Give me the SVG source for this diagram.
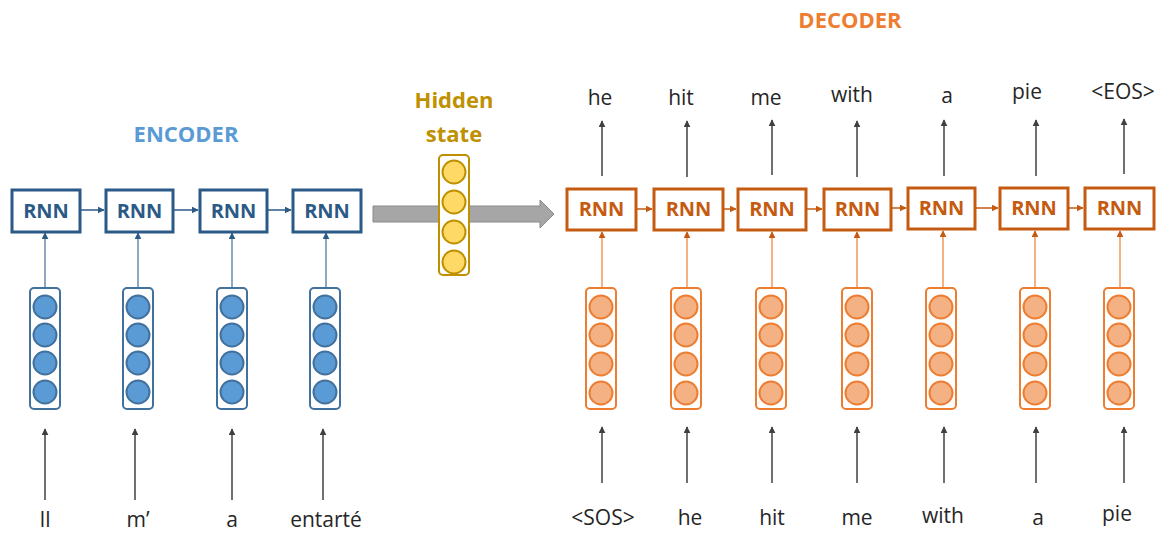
<svg xmlns="http://www.w3.org/2000/svg" width="1160" height="534" viewBox="0 0 1160 534">
  <defs>
    <style>
      .title { font-family: "Open Sans", "Liberation Sans", sans-serif; font-weight: bold; font-size: 22px; text-anchor: middle; }
      .word { font-family: "Open Sans", "Liberation Sans", sans-serif; font-size: 21px; fill: #262626; text-anchor: middle; }
      .rnn-label { font-family: "Open Sans", "Liberation Sans", sans-serif; font-weight: bold; font-size: 20px; text-anchor: middle; }
      .enc-box { fill: #ffffff; stroke: #2B5A87; stroke-width: 3; }
      .enc-label { fill: #2B5A87; }
      .dec-box { fill: #ffffff; stroke: #C55A11; stroke-width: 3; }
      .dec-label { fill: #C55A11; }
      .enc-vec { fill: #ffffff; stroke: #41719C; stroke-width: 2; }
      .enc-unit { fill: #5B9BD5; stroke: #41719C; stroke-width: 2; }
      .dec-vec { fill: #ffffff; stroke: #ED7D31; stroke-width: 2; }
      .dec-unit { fill: #F4B183; stroke: #ED7D31; stroke-width: 2; }
      .hid-vec { fill: #ffffff; stroke: #BF9000; stroke-width: 2; }
      .hid-unit { fill: #FFD966; stroke: #BF9000; stroke-width: 2; }
      .io { stroke: #404040; stroke-width: 1.5; fill: none; marker-end: url(#tip-dark); }
      .enc-link { stroke: #2B5A87; stroke-width: 1.5; fill: none; marker-end: url(#tip-blue); }
      .enc-feed { stroke: #41719C; stroke-width: 1.2; fill: none; marker-end: url(#tip-blue); }
      .dec-link { stroke: #C55A11; stroke-width: 1.5; fill: none; marker-end: url(#tip-orange); }
      .dec-feed { stroke: #ED7D31; stroke-width: 1.2; fill: none; marker-end: url(#tip-orange); }
    </style>
    <marker id="tip-dark" viewBox="0 0 10 10" refX="9" refY="5" markerWidth="7" markerHeight="7" markerUnits="userSpaceOnUse" orient="auto">
      <path d="M0,0 L10,5 L0,10 z" fill="#404040"/>
    </marker>
    <marker id="tip-blue" viewBox="0 0 10 10" refX="9" refY="5" markerWidth="7" markerHeight="7" markerUnits="userSpaceOnUse" orient="auto">
      <path d="M0,0 L10,5 L0,10 z" fill="#2B5A87"/>
    </marker>
    <marker id="tip-orange" viewBox="0 0 10 10" refX="9" refY="5" markerWidth="7" markerHeight="7" markerUnits="userSpaceOnUse" orient="auto">
      <path d="M0,0 L10,5 L0,10 z" fill="#C55A11"/>
    </marker>
    <!-- a column of four units -->
    <g id="enc-column">
      <rect class="enc-vec" x="-15" y="0" width="30" height="121" rx="4"/>
      <circle class="enc-unit" cx="0" cy="19" r="11.5"/>
      <circle class="enc-unit" cx="0" cy="47" r="11.5"/>
      <circle class="enc-unit" cx="0" cy="75" r="11.5"/>
      <circle class="enc-unit" cx="0" cy="104" r="11.5"/>
    </g>
    <g id="dec-column">
      <rect class="dec-vec" x="-15" y="0" width="30" height="121" rx="4"/>
      <circle class="dec-unit" cx="0" cy="19" r="11.5"/>
      <circle class="dec-unit" cx="0" cy="47" r="11.5"/>
      <circle class="dec-unit" cx="0" cy="76" r="11.5"/>
      <circle class="dec-unit" cx="0" cy="105" r="11.5"/>
    </g>
  </defs>

  <rect width="1160" height="534" fill="#ffffff"/>

  <!-- section titles -->
  <text class="title" x="186" y="142" fill="#5B9BD5">ENCODER</text>
  <text class="title" x="850" y="28" fill="#ED7D31">DECODER</text>

  <!-- connectors -->
  <g id="connectors">
    <!-- encoder: word to embedding -->
    <line class="io" x1="45" y1="500" x2="45" y2="429"/>
    <line class="io" x1="135" y1="500" x2="135" y2="429"/>
    <line class="io" x1="232" y1="500" x2="232" y2="429"/>
    <line class="io" x1="323" y1="500" x2="323" y2="429"/>
    <!-- encoder: embedding to cell -->
    <line class="enc-feed" x1="45" y1="288" x2="45" y2="233"/>
    <line class="enc-feed" x1="138" y1="288" x2="138" y2="233"/>
    <line class="enc-feed" x1="232" y1="288" x2="232" y2="233"/>
    <line class="enc-feed" x1="326" y1="288" x2="326" y2="233"/>
    <!-- encoder: recurrence -->
    <line class="enc-link" x1="81" y1="210" x2="104" y2="210"/>
    <line class="enc-link" x1="174" y1="210" x2="198" y2="210"/>
    <line class="enc-link" x1="268" y1="210" x2="291" y2="210"/>

    <!-- context hand-off -->
    <polygon points="373,206 540,206 540,200 554,214 540,228 540,222 373,222" fill="#A6A6A6" stroke="#8A8A8A" stroke-width="1"/>

    <!-- decoder: recurrence -->
    <line class="dec-link" x1="637" y1="209" x2="652" y2="209"/>
    <line class="dec-link" x1="724" y1="209" x2="736" y2="209"/>
    <line class="dec-link" x1="807" y1="209" x2="822" y2="209"/>
    <line class="dec-link" x1="892" y1="208" x2="906" y2="208"/>
    <line class="dec-link" x1="976" y1="208" x2="998" y2="208"/>
    <line class="dec-link" x1="1069" y1="208" x2="1083" y2="208"/>
    <!-- decoder: embedding to cell -->
    <line class="dec-feed" x1="602" y1="288" x2="602" y2="232"/>
    <line class="dec-feed" x1="687" y1="288" x2="687" y2="232"/>
    <line class="dec-feed" x1="772" y1="288" x2="772" y2="232"/>
    <line class="dec-feed" x1="857" y1="288" x2="857" y2="232"/>
    <line class="dec-feed" x1="943" y1="288" x2="943" y2="231"/>
    <line class="dec-feed" x1="1035" y1="288" x2="1035" y2="231"/>
    <line class="dec-feed" x1="1120" y1="288" x2="1120" y2="231"/>
    <!-- decoder: word to embedding -->
    <line class="io" x1="602" y1="483" x2="602" y2="427"/>
    <line class="io" x1="687" y1="483" x2="687" y2="427"/>
    <line class="io" x1="772" y1="483" x2="772" y2="427"/>
    <line class="io" x1="857" y1="483" x2="857" y2="427"/>
    <line class="io" x1="944" y1="483" x2="944" y2="427"/>
    <line class="io" x1="1036" y1="483" x2="1036" y2="427"/>
    <line class="io" x1="1124" y1="483" x2="1124" y2="427"/>
    <!-- decoder: cell to output word -->
    <line class="io" x1="602" y1="176" x2="602" y2="121"/>
    <line class="io" x1="687" y1="177" x2="687" y2="121"/>
    <line class="io" x1="772" y1="175" x2="772" y2="120"/>
    <line class="io" x1="857" y1="177" x2="857" y2="121"/>
    <line class="io" x1="944" y1="176" x2="944" y2="120"/>
    <line class="io" x1="1036" y1="176" x2="1036" y2="120"/>
    <line class="io" x1="1124" y1="174" x2="1124" y2="119"/>
  </g>

  <!-- encoder cells -->
  <g id="enc-rnn-1"><rect class="enc-box" x="12" y="190" width="68" height="42"/><text class="rnn-label enc-label" x="46" y="218">RNN</text></g>
  <g id="enc-rnn-2"><rect class="enc-box" x="106" y="190" width="67" height="42"/><text class="rnn-label enc-label" x="139.5" y="218">RNN</text></g>
  <g id="enc-rnn-3"><rect class="enc-box" x="200" y="190" width="67" height="42"/><text class="rnn-label enc-label" x="233.5" y="218">RNN</text></g>
  <g id="enc-rnn-4"><rect class="enc-box" x="293" y="190" width="68" height="42"/><text class="rnn-label enc-label" x="327" y="218">RNN</text></g>

  <!-- encoder embeddings -->
  <g id="enc-emb-1"><use href="#enc-column" x="45" y="288"/></g>
  <g id="enc-emb-2"><use href="#enc-column" x="138" y="288"/></g>
  <g id="enc-emb-3"><use href="#enc-column" x="232" y="288"/></g>
  <g id="enc-emb-4"><use href="#enc-column" x="325" y="288"/></g>

  <!-- source words -->
  <g id="enc-words">
    <text class="word" x="45" y="527">Il</text>
    <text class="word" x="138" y="527">m’</text>
    <text class="word" x="232" y="527">a</text>
    <text class="word" x="326" y="527">entarté</text>
  </g>

  <!-- hidden state -->
  <g id="hidden-state">
    <text class="title" x="454" y="108" fill="#BF9000">Hidden</text>
    <text class="title" x="454" y="142" fill="#BF9000">state</text>
    <rect class="hid-vec" x="439" y="155" width="30" height="120" rx="4"/>
    <circle class="hid-unit" cx="454" cy="172" r="11.5"/>
    <circle class="hid-unit" cx="454" cy="202" r="11.5"/>
    <circle class="hid-unit" cx="454" cy="232" r="11.5"/>
    <circle class="hid-unit" cx="454" cy="262" r="11.5"/>
  </g>

  <!-- decoder cells -->
  <g id="dec-rnn-1"><rect class="dec-box" x="567" y="189" width="69" height="41"/><text class="rnn-label dec-label" x="601.5" y="216">RNN</text></g>
  <g id="dec-rnn-2"><rect class="dec-box" x="654" y="189" width="69" height="41"/><text class="rnn-label dec-label" x="688.5" y="216">RNN</text></g>
  <g id="dec-rnn-3"><rect class="dec-box" x="738" y="189" width="68" height="41"/><text class="rnn-label dec-label" x="772" y="216">RNN</text></g>
  <g id="dec-rnn-4"><rect class="dec-box" x="824" y="189" width="67" height="41"/><text class="rnn-label dec-label" x="857.5" y="216">RNN</text></g>
  <g id="dec-rnn-5"><rect class="dec-box" x="908" y="188" width="67" height="41"/><text class="rnn-label dec-label" x="941.5" y="215">RNN</text></g>
  <g id="dec-rnn-6"><rect class="dec-box" x="1000" y="188" width="68" height="41"/><text class="rnn-label dec-label" x="1034" y="215">RNN</text></g>
  <g id="dec-rnn-7"><rect class="dec-box" x="1085" y="188" width="69" height="41"/><text class="rnn-label dec-label" x="1119.5" y="215">RNN</text></g>

  <!-- decoder embeddings -->
  <g id="dec-emb-1"><use href="#dec-column" x="601" y="288"/></g>
  <g id="dec-emb-2"><use href="#dec-column" x="686" y="288"/></g>
  <g id="dec-emb-3"><use href="#dec-column" x="771" y="288"/></g>
  <g id="dec-emb-4"><use href="#dec-column" x="857" y="288"/></g>
  <g id="dec-emb-5"><use href="#dec-column" x="941" y="288"/></g>
  <g id="dec-emb-6"><use href="#dec-column" x="1035" y="288"/></g>
  <g id="dec-emb-7"><use href="#dec-column" x="1119" y="288"/></g>

  <!-- decoder input words -->
  <g id="dec-inputs">
    <text class="word" x="603" y="525">&lt;SOS&gt;</text>
    <text class="word" x="690" y="525">he</text>
    <text class="word" x="772" y="525">hit</text>
    <text class="word" x="857" y="525">me</text>
    <text class="word" x="943" y="523">with</text>
    <text class="word" x="1038" y="525">a</text>
    <text class="word" x="1117" y="521">pie</text>
  </g>

  <!-- decoder output words -->
  <g id="dec-outputs">
    <text class="word" x="600" y="105">he</text>
    <text class="word" x="681" y="105">hit</text>
    <text class="word" x="766" y="105">me</text>
    <text class="word" x="852" y="102">with</text>
    <text class="word" x="947" y="103">a</text>
    <text class="word" x="1027" y="99">pie</text>
    <text class="word" x="1123" y="99">&lt;EOS&gt;</text>
  </g>
</svg>
